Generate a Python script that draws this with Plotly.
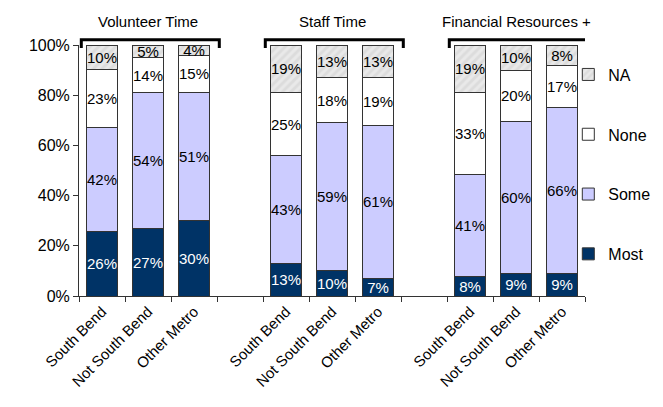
import plotly.graph_objects as go

groups = ["Volunteer Time", "Staff Time", "Financial Resources +"]
subs = ["South Bend", "Not South Bend", "Other Metro"]

most = [26, 27, 30, 13, 10, 7, 8, 9, 9]
some = [42, 54, 51, 43, 59, 61, 41, 60, 66]
none_ = [23, 14, 15, 25, 18, 19, 33, 20, 17]
na = [10, 5, 4, 19, 13, 13, 19, 10, 8]

# x positions: three bars per group with an empty slot between groups
xpos = [g * 4 + s for g in range(len(groups)) for s in range(len(subs))]
xlabels = [subs[s] for g in range(len(groups)) for s in range(len(subs))]

FONT = "Liberation Sans"
LINE = "#333333"

series = [
    ("Most", most, dict(color="#003366"), "white", 4),
    ("Some", some, dict(color="#CCCCFF"), "black", 3),
    ("None", none_, dict(color="white"), "black", 2),
    ("NA", na, dict(color="#DCDCDC",
                    pattern=dict(shape="/", bgcolor="#DCDCDC", fgcolor="#F5F5F5",
                                 size=6, solidity=0.5, fillmode="overlay")), "black", 1),
]

fig = go.Figure()
for name, vals, mk, tcol, rank in series:
    mk = dict(mk)
    mk["line"] = dict(color=LINE, width=1)
    fig.add_trace(go.Bar(
        x=xpos, y=vals, name=name, marker=mk, width=0.66,
        text=[f"{v}%" for v in vals], textposition="inside",
        insidetextanchor="middle", textangle=0,
        textfont=dict(family=FONT, size=15, color=tcol),
        legendgroup=name, legendrank=rank, hoverinfo="skip",
    ))

fig.update_layout(
    barmode="stack", barnorm="percent",
    width=663, height=407,
    margin=dict(l=71, r=86, t=37, b=119, autoexpand=False),
    paper_bgcolor="white", plot_bgcolor="white",
    font=dict(family=FONT, size=15, color="black"),
    uniformtext=dict(minsize=15, mode="show"),
    showlegend=True,
    legend=dict(x=0.967, xanchor="left", y=0.95, yanchor="top",
                traceorder="grouped", tracegroupgap=36,
                font=dict(family=FONT, size=16), bgcolor="rgba(0,0,0,0)"),
    xaxis=dict(range=[-0.5, 10.5], tickmode="array", tickvals=xpos, ticktext=xlabels,
               tickangle=-45, ticks="", showline=True, linecolor="#333", linewidth=1,
               showgrid=False, zeroline=False, tickfont=dict(family=FONT, size=15),
               minor=dict(tickmode="array", tickvals=[v - 0.5 for v in range(12)],
                          ticks="outside", ticklen=5, tickcolor="#333", showgrid=False)),
    yaxis=dict(range=[0, 100], tickmode="array", tickvals=[0, 20, 40, 60, 80, 100],
               ticktext=["0%", "20%", "40%", "60%", "80%", "100%"],
               ticks="outside", ticklen=5, tickcolor="#333", showline=True,
               linecolor="#333", linewidth=1, showgrid=False, zeroline=False,
               tickfont=dict(family=FONT, size=16)),
)

# group brackets and titles
for g, title in enumerate(groups):
    x0 = g * 4 - 0.45
    x1 = g * 4 + 2.55
    fig.add_shape(type="path", xref="x", yref="paper",
                  path=f"M {x0} 0.988 L {x0} 1.021 L {x1} 1.021 L {x1} 0.988",
                  line=dict(color="black", width=3))
    fig.add_annotation(x=g * 4 + 1, y=1.092, xref="x", yref="paper", text=title,
                       showarrow=False, yanchor="middle",
                       font=dict(family=FONT, size=15, color="black"))

fig.write_html("out.html")
